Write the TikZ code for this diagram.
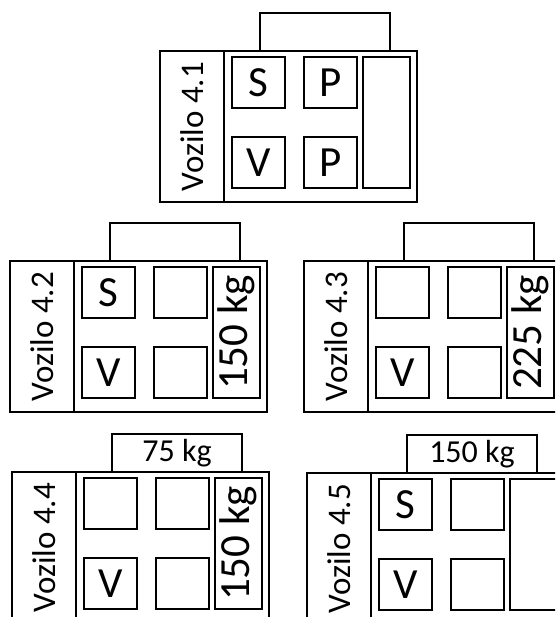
\documentclass[tikz,border=0pt]{standalone}
\usepackage{fontspec}
\setmainfont{Carlito}
\usepackage{graphicx}
\tikzset{
  frame/.style={draw=black, line width=1.1pt, inner sep=0pt, outer sep=0pt},
  mainbox/.style={frame, minimum width=257pt, minimum height=151pt},
  labelcol/.style={frame, minimum width=64pt, minimum height=151pt, font=\fontsize{33}{33}\selectfont},
  seat/.style={frame, minimum width=53pt, minimum height=51pt, font=\fontsize{43}{43}\selectfont},
  cargo/.style={frame, minimum width=47pt, minimum height=131pt, font=\fontsize{43}{43}\selectfont},
  roof/.style={frame, minimum width=130pt, minimum height=38pt, font=\fontsize{32}{32}\selectfont},
}
\newcommand{\rot}[1]{\rotatebox{90}{#1}}
\begin{document}
\begin{tikzpicture}[x=1pt,y=-1pt]
\useasboundingbox (0,0) rectangle (555,617);
\clip (0,0) rectangle (555,617);
% Vozilo 4.1
\node[mainbox]  (a-main) at (288.5,126.5) {};
\node[labelcol] (a-lab)  at (192,126.5) {\rot{Vozilo 4.1}};
\node[seat]     (a-11)   at (258.5,82.5) {S};
\node[seat]     (a-12)   at (330.5,82.5) {P};
\node[seat]     (a-21)   at (258.5,162.5) {V};
\node[seat]     (a-22)   at (330.5,162.5) {P};
\node[cargo]    (a-tall) at (386.5,122.5) {};
\node[roof]     (a-tab)  at (325,32) {};
% Vozilo 4.2
\node[mainbox]  (b-main) at (138.5,336.5) {};
\node[labelcol] (b-lab)  at (42,336.5) {\rot{Vozilo 4.2}};
\node[seat]     (b-11)   at (108.5,292.5) {S};
\node[seat]     (b-12)   at (180.5,292.5) {};
\node[seat]     (b-21)   at (108.5,372.5) {V};
\node[seat]     (b-22)   at (180.5,372.5) {};
\node[cargo]    (b-tall) at (236.5,332.5) {\rot{150 kg}};
\node[roof]     (b-tab)  at (175,242) {};
% Vozilo 4.3
\node[mainbox]  (c-main) at (432.5,336.5) {};
\node[labelcol] (c-lab)  at (336,336.5) {\rot{Vozilo 4.3}};
\node[seat]     (c-11)   at (402.5,292.5) {};
\node[seat]     (c-12)   at (474.5,292.5) {};
\node[seat]     (c-21)   at (402.5,372.5) {V};
\node[seat]     (c-22)   at (474.5,372.5) {};
\node[cargo]    (c-tall) at (530.5,332.5) {\rot{225 kg}};
\node[roof]     (c-tab)  at (469,242) {};
% Vozilo 4.4
\node[mainbox]  (d-main) at (140.5,547.5) {};
\node[labelcol] (d-lab)  at (44,547.5) {\rot{Vozilo 4.4}};
\node[seat]     (d-11)   at (110.5,503.5) {};
\node[seat]     (d-12)   at (182.5,503.5) {};
\node[seat]     (d-21)   at (110.5,583.5) {V};
\node[seat]     (d-22)   at (182.5,583.5) {};
\node[cargo]    (d-tall) at (238.5,543.5) {\rot{150 kg}};
\node[roof]     (d-tab)  at (177,453) {75 kg};
% Vozilo 4.5
\node[mainbox]  (e-main) at (435.5,548.5) {};
\node[labelcol] (e-lab)  at (339,548.5) {\rot{Vozilo 4.5}};
\node[seat]     (e-11)   at (405.5,504.5) {S};
\node[seat]     (e-12)   at (477.5,504.5) {};
\node[seat]     (e-21)   at (405.5,584.5) {V};
\node[seat]     (e-22)   at (477.5,584.5) {};
\node[cargo]    (e-tall) at (533.5,544.5) {};
\node[roof]     (e-tab)  at (472,454) {150 kg};
\end{tikzpicture}
\end{document}
